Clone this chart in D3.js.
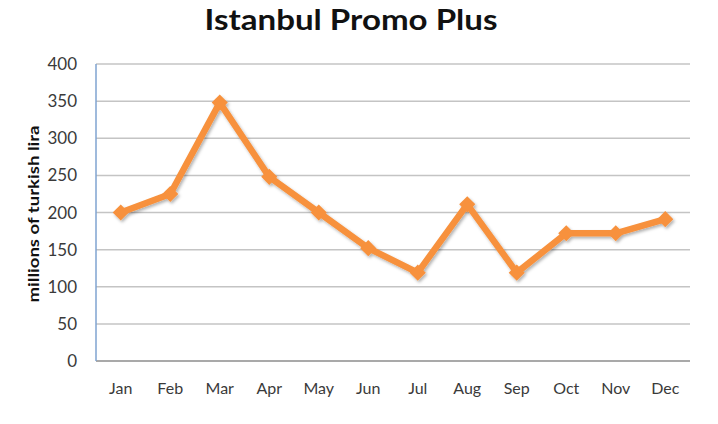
<!DOCTYPE html>
<html>
<head>
<meta charset="utf-8">
<script src="https://cdn.jsdelivr.net/npm/d3@7"></script>
<style>
  html, body { margin: 0; padding: 0; background: #fff; }
  svg { display: block; }
</style>
</head>
<body>
<div id="chart"></div>
<script>
const title = "Istanbul Promo Plus";
const yAxisLabel = "millions of turkish lira";
const months = ["Jan","Feb","Mar","Apr","May","Jun","Jul","Aug","Sep","Oct","Nov","Dec"];
const values = [200, 225, 348, 248, 200, 152, 119, 211, 119, 172, 172, 191];
const yTicks = [0, 50, 100, 150, 200, 250, 300, 350, 400];

const W = 718, H = 424;
const margin = { left: 96, right: 28, top: 64, bottom: 63 };
const font = "Lato, 'Open Sans', 'Liberation Sans', sans-serif";

const svg = d3.select("#chart").append("svg")
  .attr("width", W).attr("height", H);

const defs = svg.append("defs");
const f = defs.append("filter").attr("id", "shadow")
  .attr("x", "-20%").attr("y", "-20%").attr("width", "140%").attr("height", "140%");
f.append("feDropShadow").attr("dx", 1.5).attr("dy", 2).attr("stdDeviation", 1.6)
  .attr("flood-color", "#000").attr("flood-opacity", 0.3);

const x = d3.scaleBand().domain(months).range([margin.left, W - margin.right]);
const y = d3.scaleLinear().domain([0, 400]).range([H - margin.bottom, margin.top]);

// gridlines
svg.append("g").selectAll("line").data(yTicks.filter(d => d > 0)).join("line")
  .attr("x1", margin.left).attr("x2", W - margin.right)
  .attr("y1", d => y(d)).attr("y2", d => y(d))
  .attr("stroke", "#c4c4c4").attr("stroke-width", 1.5);

// x axis baseline
svg.append("line")
  .attr("x1", margin.left).attr("x2", W - margin.right)
  .attr("y1", y(0)).attr("y2", y(0))
  .attr("stroke", "#8c8c8c").attr("stroke-width", 1.5);

// y axis line
svg.append("line")
  .attr("x1", margin.left).attr("x2", margin.left)
  .attr("y1", y(400)).attr("y2", y(0))
  .attr("stroke", "#7fa3d0").attr("stroke-width", 1.5);

// y tick labels
svg.append("g").selectAll("text").data(yTicks).join("text")
  .attr("x", 77).attr("y", d => y(d)).attr("dy", "0.36em")
  .attr("text-anchor", "end")
  .attr("font-family", font).attr("font-size", 17).attr("fill", "#3a3a3a")
  .text(d => d);

// x tick labels
svg.append("g").selectAll("text").data(months).join("text")
  .attr("x", d => x(d) + x.bandwidth() / 2).attr("y", 394)
  .attr("text-anchor", "middle")
  .attr("font-family", font).attr("font-size", 16).attr("fill", "#3a3a3a")
  .text(d => d);

// y axis title
svg.append("text")
  .attr("transform", `translate(39, 214) rotate(-90)`)
  .attr("text-anchor", "middle")
  .attr("font-family", font).attr("font-size", 15).attr("font-weight", "bold")
  .attr("fill", "#111")
  .attr("textLength", 177).attr("lengthAdjust", "spacingAndGlyphs")
  .text(yAxisLabel);

// chart title
svg.append("text")
  .attr("x", 351).attr("y", 30)
  .attr("text-anchor", "middle")
  .attr("font-family", font).attr("font-size", 29).attr("font-weight", "bold")
  .attr("fill", "#111")
  .attr("textLength", 293).attr("lengthAdjust", "spacingAndGlyphs")
  .text(title);

// line
const pts = months.map((m, i) => ({ m, v: values[i] }));
const lineGen = d3.line().x(d => x(d.m) + x.bandwidth() / 2).y(d => y(d.v));
const g = svg.append("g").attr("filter", "url(#shadow)");
g.append("path").datum(pts)
  .attr("d", lineGen)
  .attr("fill", "none").attr("stroke", "#f7913d").attr("stroke-width", 6.5)
  .attr("stroke-linejoin", "round");

const sym = d3.symbol().type(d3.symbolSquare).size(130);
g.selectAll("path.marker").data(pts).join("path")
  .attr("class", "marker")
  .attr("d", sym)
  .attr("transform", d => `translate(${x(d.m) + x.bandwidth() / 2},${y(d.v)}) rotate(45)`)
  .attr("fill", "#f7913d");
</script>
</body>
</html>
